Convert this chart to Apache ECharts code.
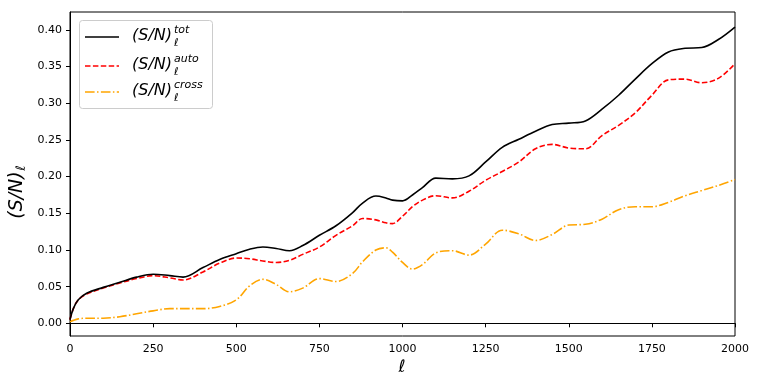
<!DOCTYPE html>
<html>
<head>
<meta charset="utf-8">
<script src="https://cdn.jsdelivr.net/npm/echarts@6/dist/echarts.min.js"></script>
<style>
  html, body { margin: 0; padding: 0; background: #fff; }
  #chart { width: 759px; height: 387px; }
</style>
</head>
<body>
<div id="chart"></div>
<script>
// multipole values (x)
var ell = [0, 10, 25, 50, 100, 150, 200, 250, 300, 340, 400, 450, 500, 540, 580, 620, 660, 700, 750, 800,
  850, 880, 920, 950, 970, 1000, 1030, 1060, 1100, 1150, 1200, 1250, 1300, 1350, 1400, 1450, 1500, 1550, 1600, 1650,
  1700, 1750, 1800, 1850, 1900, 1950, 2000];

// (S/N)_l total
var snTot = [0.005, 0.020, 0.032, 0.041, 0.049, 0.056, 0.063, 0.067, 0.065, 0.063, 0.076, 0.087, 0.095, 0.101,
  0.104, 0.102, 0.099, 0.106, 0.120, 0.133, 0.151, 0.164, 0.1735, 0.171, 0.168, 0.167, 0.175, 0.185, 0.198, 0.197, 0.201,
  0.220, 0.240, 0.251, 0.262, 0.271, 0.273, 0.276, 0.292, 0.311, 0.333, 0.354, 0.370, 0.375, 0.376, 0.387, 0.404];

// (S/N)_l auto
var snAuto = [0.005, 0.020, 0.032, 0.040, 0.048, 0.055, 0.061, 0.065, 0.062, 0.059, 0.070, 0.082, 0.089, 0.088,
  0.085, 0.083, 0.086, 0.094, 0.104, 0.120, 0.133, 0.143, 0.141, 0.137, 0.136, 0.146, 0.159, 0.168, 0.174, 0.171, 0.180,
  0.195, 0.207, 0.220, 0.238, 0.244, 0.239, 0.238, 0.256, 0.270, 0.287, 0.311, 0.332, 0.333, 0.328, 0.334, 0.354];

// (S/N)_l cross
var snCross = [0.002, 0.004, 0.006, 0.007, 0.007, 0.009, 0.013, 0.017, 0.020, 0.020, 0.020, 0.023, 0.032, 0.051,
  0.060, 0.053, 0.043, 0.048, 0.061, 0.057, 0.068, 0.084, 0.100, 0.103, 0.097, 0.083, 0.074, 0.080, 0.096, 0.099, 0.093,
  0.108, 0.127, 0.122, 0.113, 0.121, 0.134, 0.135, 0.142, 0.155, 0.159, 0.159, 0.165, 0.174, 0.181, 0.188, 0.196];

var xTicks = [0, 250, 500, 750, 1000, 1250, 1500, 1750, 2000];
var yTicks = [0, 0.05, 0.10, 0.15, 0.20, 0.25, 0.30, 0.35, 0.40];

var seriesNames = ['tot', 'auto', 'cross'];
var seriesColors = ['#000000', '#ff0000', '#ffa500'];
var seriesDash = ['solid', [5.5, 2.4], [9.6, 2.4, 1.5, 2.4]];
var seriesValues = [snTot, snAuto, snCross];

function pairs(xs, ys) {
  var out = [];
  for (var i = 0; i < xs.length; i++) { out.push([xs[i], ys[i]]); }
  return out;
}

var series = [];
for (var s = 0; s < seriesValues.length; s++) {
  series.push({
    name: seriesNames[s],
    type: 'line',
    data: pairs(ell, seriesValues[s]),
    smooth: 0.35,
    showSymbol: false,
    z: 10 - s,
    lineStyle: { color: seriesColors[s], width: 1.6, type: seriesDash[s] }
  });
}

var font = 'DejaVu Sans';

// legend drawn as graphic (superscript + subscript labels)
var legendRows = [36, 65, 91];
var legendGraphic = [{
  type: 'rect',
  shape: { x: 79.5, y: 20.5, width: 133, height: 88, r: 3 },
  style: { fill: 'rgba(255,255,255,0.8)', stroke: '#cccccc', lineWidth: 1 },
  z: 100
}];
for (var r = 0; r < seriesNames.length; r++) {
  var yRow = legendRows[r];
  legendGraphic.push({
    type: 'line',
    shape: { x1: 85, y1: yRow + 1, x2: 119, y2: yRow + 1 },
    style: { stroke: seriesColors[r], lineWidth: 1.6, lineDash: seriesDash[r] === 'solid' ? null : seriesDash[r] },
    z: 101
  });
  legendGraphic.push({
    type: 'text', x: 132, y: yRow,
    style: { text: '(S/N)', font: 'italic 16px "DejaVu Sans"', fill: '#000', verticalAlign: 'middle' },
    z: 101
  });
  legendGraphic.push({
    type: 'text', x: 174, y: yRow - 6,
    style: { text: seriesNames[r], font: 'italic 11px "DejaVu Sans"', fill: '#000', verticalAlign: 'middle' },
    z: 101
  });
  legendGraphic.push({
    type: 'text', x: 174, y: yRow + 7,
    style: { text: 'ℓ', font: 'italic 11px "DejaVu Sans"', fill: '#000', verticalAlign: 'middle' },
    z: 101
  });
}

// y axis title
legendGraphic.push({
  type: 'group', x: 17, y: 195, rotation: Math.PI / 2,
  children: [
    { type: 'text', x: 0, y: 0,
      style: { text: '(S/N)', font: 'italic 19px "DejaVu Sans"', fill: '#000', align: 'center', verticalAlign: 'middle' } },
    { type: 'text', x: 27, y: 5,
      style: { text: 'ℓ', font: 'italic 13px "DejaVu Sans"', fill: '#000', align: 'center', verticalAlign: 'middle' } }
  ]
});
// x axis title
legendGraphic.push({
  type: 'text', x: 402, y: 368,
  style: { text: 'ℓ', font: 'italic 17px "DejaVu Sans"', fill: '#000', align: 'center', verticalAlign: 'middle' }
});

var chart = echarts.init(document.getElementById('chart'), null, { renderer: 'canvas' });
chart.setOption({
  animation: false,
  backgroundColor: '#ffffff',
  grid: {
    left: 70, right: 24, top: 12, bottom: 51,
    show: true, borderColor: '#000', borderWidth: 1, backgroundColor: 'transparent'
  },
  xAxis: {
    type: 'value', min: 0, max: 2000, interval: 250,
    axisLine: { show: true, lineStyle: { color: '#000', width: 1 } },
    axisTick: { show: true, length: 4, inside: false, lineStyle: { color: '#000' }, customValues: xTicks },
    axisLabel: {
      color: '#000', fontFamily: font, fontSize: 11, margin: 8, customValues: xTicks,
      formatter: function (v) { return String(v); }
    },
    splitLine: { show: false }
  },
  yAxis: {
    type: 'value', min: -0.0173, max: 0.4245,
    axisLine: { show: true, lineStyle: { color: '#000', width: 1 } },
    axisTick: { show: true, length: 4, inside: false, lineStyle: { color: '#000' }, customValues: yTicks },
    axisLabel: {
      color: '#000', fontFamily: font, fontSize: 11, margin: 8, customValues: yTicks,
      formatter: function (v) { return v.toFixed(2); }
    },
    splitLine: { show: false }
  },
  graphic: legendGraphic,
  series: series
});
</script>
</body>
</html>
